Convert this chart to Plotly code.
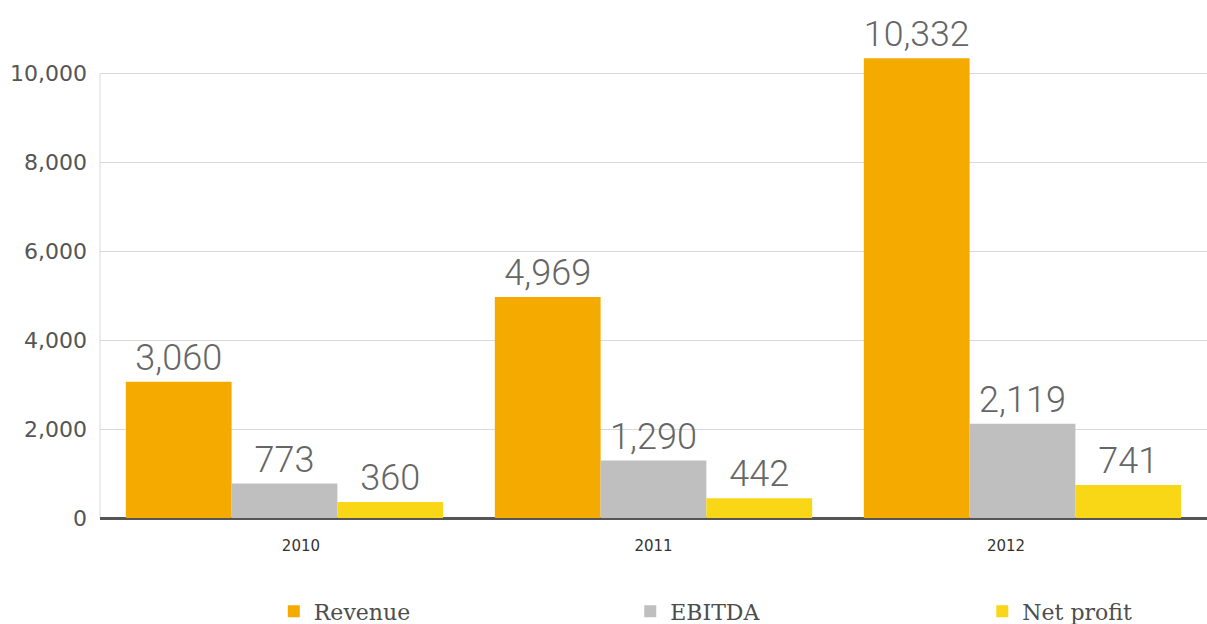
import plotly.graph_objects as go

# Financial results by year
years = ["2010", "2011", "2012"]
revenue = [3060, 4969, 10332]
ebitda = [773, 1290, 2119]
net_profit = [360, 442, 741]

series = [
    ("Revenue", revenue, "#F5AA00", "legend"),
    ("EBITDA", ebitda, "#BFBFBF", "legend2"),
    ("Net profit", net_profit, "#F9D616", "legend3"),
]

fig = go.Figure()
for name, values, color, legend_id in series:
    fig.add_trace(go.Bar(
        name=name,
        x=years,
        y=values,
        legend=legend_id,
        marker=dict(color=color, line=dict(width=0)),
        text=[f"{v:,}" for v in values],
        textposition="outside",
        texttemplate="%{text}",
        textfont=dict(family="Roboto", size=36, color="#666666", weight=300),
        cliponaxis=False,
    ))

# year labels on a separate overlaid axis so they can be spaced independently
fig.add_trace(go.Scatter(
    x=[0, 1, 2], y=[0, 0, 0], xaxis="x2", mode="markers",
    marker=dict(opacity=0), showlegend=False, hoverinfo="skip",
))

# vertical axis line only up to the top gridline
fig.add_shape(
    type="line", xref="paper", yref="y",
    x0=0, x1=0, y0=0, y1=10000,
    line=dict(color="#d9d9d9", width=1),
    layer="below",
)

legend_style = dict(
    orientation="h",
    xanchor="left",
    yref="container",
    y=0.02, yanchor="middle",
    font=dict(family="DejaVu Serif", size=22, color="#4d4d4d"),
    bgcolor="rgba(0,0,0,0)",
)

fig.update_layout(
    width=1207,
    height=624,
    margin=dict(l=100, r=0, t=33, b=106),
    paper_bgcolor="white",
    plot_bgcolor="white",
    barmode="group",
    bargap=0.14,
    bargroupgap=0,
    showlegend=True,
    legend=dict(x=0.157, **legend_style),
    legend2=dict(x=0.479, **legend_style),
    legend3=dict(x=0.797, **legend_style),
    xaxis=dict(
        type="category",
        showticklabels=False,
        showgrid=False,
        zeroline=False,
        showline=False,
        ticks="",
    ),
    xaxis2=dict(
        overlaying="x",
        side="bottom",
        range=[-0.57, 2.57],
        tickvals=[0, 1, 2],
        ticktext=years,
        showgrid=False,
        zeroline=False,
        showline=False,
        ticks="",
        ticklabelstandoff=17,
        tickfont=dict(family="DejaVu Sans", size=15, color="#333333"),
    ),
    yaxis=dict(
        range=[0, 10900],
        tickvals=[0, 2000, 4000, 6000, 8000, 10000],
        ticktext=["0", "2,000", "4,000", "6,000", "8,000", "10,000"],
        showgrid=True,
        gridcolor="#d9d9d9",
        gridwidth=1,
        zeroline=True,
        zerolinecolor="#555555",
        zerolinewidth=3,
        showline=False,
        ticks="",
        ticklabelstandoff=12,
        tickfont=dict(family="DejaVu Sans", size=22, color="#555555"),
    ),
)

fig.write_html("out.html")
